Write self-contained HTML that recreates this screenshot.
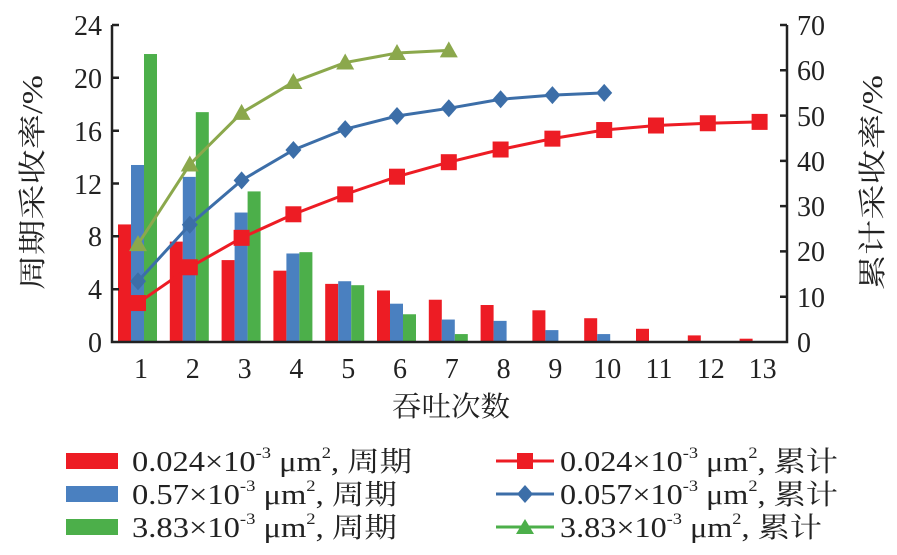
<!DOCTYPE html>
<html><head><meta charset="utf-8"><style>
body{margin:0;background:#fff}
svg{display:block}
text{font-family:"Liberation Serif","Noto Serif CJK SC",serif;fill:#222}
</style></head><body>
<svg width="897" height="555" viewBox="0 0 897 555" xmlns="http://www.w3.org/2000/svg">
<g id="bars"></g>
<g id="lines"></g>
<g stroke="#222" stroke-width="2.5" fill="none">
<path d="M112 25 V342 H787 V25"/>
<path d="M112 25h7M112 77.8h7M112 130.7h7M112 183.5h7M112 236.3h7M112 289.2h7"/>
<path d="M787 25h-7M787 70.3h-7M787 115.6h-7M787 160.9h-7M787 206.1h-7M787 251.4h-7M787 296.7h-7"/>
</g>
<g font-size="28" text-anchor="end">
<text x="102" y="35">24</text><text x="102" y="88">20</text><text x="102" y="141">16</text>
<text x="102" y="194">12</text><text x="102" y="246">8</text><text x="102" y="299">4</text><text x="102" y="352">0</text>
</g>
<g font-size="28" text-anchor="start">
<text x="797" y="35">70</text><text x="797" y="80">60</text><text x="797" y="126">50</text>
<text x="797" y="171">40</text><text x="797" y="216">30</text><text x="797" y="261">20</text>
<text x="797" y="307">10</text><text x="797" y="352">0</text>
</g>
<g font-size="28" text-anchor="middle" id="xt"></g>
<text x="392" y="416" font-size="28" textLength="118" lengthAdjust="spacingAndGlyphs">吞吐次数</text>
<text transform="translate(42,290) rotate(-90)" font-size="28" textLength="215" lengthAdjust="spacingAndGlyphs">周期采收率/%</text>
<text transform="translate(882,290) rotate(-90)" font-size="28" textLength="215" lengthAdjust="spacingAndGlyphs">累计采收率/%</text>
<rect x="66" y="453" width="52" height="16" fill="#ED1C24"/>
<rect x="66" y="486" width="52" height="16" fill="#4A80C0"/>
<rect x="66" y="519" width="52" height="16" fill="#4CAF4A"/>
<g font-size="28">
<text x="132" y="471" textLength="280" lengthAdjust="spacingAndGlyphs">0.024×10<tspan font-size="16" dy="-13">-3</tspan><tspan dy="13"> μm</tspan><tspan font-size="16" dy="-13">2</tspan><tspan dy="13">, 周期</tspan></text>
<text x="132" y="504" textLength="265" lengthAdjust="spacingAndGlyphs">0.57×10<tspan font-size="16" dy="-13">-3</tspan><tspan dy="13"> μm</tspan><tspan font-size="16" dy="-13">2</tspan><tspan dy="13">, 周期</tspan></text>
<text x="132" y="537" textLength="265" lengthAdjust="spacingAndGlyphs">3.83×10<tspan font-size="16" dy="-13">-3</tspan><tspan dy="13"> μm</tspan><tspan font-size="16" dy="-13">2</tspan><tspan dy="13">, 周期</tspan></text>
<text x="560" y="471" textLength="278" lengthAdjust="spacingAndGlyphs">0.024×10<tspan font-size="16" dy="-13">-3</tspan><tspan dy="13"> μm</tspan><tspan font-size="16" dy="-13">2</tspan><tspan dy="13">, 累计</tspan></text>
<text x="560" y="504" textLength="278" lengthAdjust="spacingAndGlyphs">0.057×10<tspan font-size="16" dy="-13">-3</tspan><tspan dy="13"> μm</tspan><tspan font-size="16" dy="-13">2</tspan><tspan dy="13">, 累计</tspan></text>
<text x="560" y="537" textLength="262" lengthAdjust="spacingAndGlyphs">3.83×10<tspan font-size="16" dy="-13">-3</tspan><tspan dy="13"> μm</tspan><tspan font-size="16" dy="-13">2</tspan><tspan dy="13">, 累计</tspan></text>
</g>
<line x1="496" y1="461" x2="554" y2="461" stroke="#ED1C24" stroke-width="3"/>
<rect x="517" y="453" width="16" height="16" fill="#ED1C24"/>
<line x1="496" y1="494" x2="554" y2="494" stroke="#3C6EA8" stroke-width="3"/>
<path d="M525 485 L533 494 L525 503 L517 494Z" fill="#3C6EA8"/>
<line x1="496" y1="527" x2="554" y2="527" stroke="#4CAF4A" stroke-width="3"/>
<path d="M525 519 L534 534 L516 534Z" fill="#4CAF4A"/>
<script>
(function(){
var NS="http://www.w3.org/2000/svg";
function el(t,a,p){var e=document.createElementNS(NS,t);for(var k in a)e.setAttribute(k,a[k]);p.appendChild(e);return e;}
var cx=function(i){return 138+51.8*i;};
var yl=function(v){return 342-v*13.21;}, yr=function(v){return 342-v*4.529;};
var red=[8.9,7.6,6.2,5.4,4.4,3.9,3.2,2.8,2.4,1.8,1.0,0.5,0.25];
var blue=[13.4,12.5,9.8,6.7,4.6,2.9,1.7,1.6,0.9,0.6];
var green=[21.8,17.4,11.4,6.8,4.3,2.1,0.6];
var b=document.getElementById("bars");
[[red,-20,"#ED1C24"],[blue,-7,"#4A80C0"],[green,6,"#4CAF4A"]].forEach(function(s){
 s[0].forEach(function(v,i){el("rect",{x:cx(i)+s[1],y:yl(v),width:13,height:342-yl(v),fill:s[2]},b);});
});
var cr=[8.6,16.5,23,28.2,32.6,36.5,39.7,42.5,44.9,46.8,47.8,48.3,48.6];
var cb=[13.4,25.9,35.7,42.4,47,49.9,51.6,53.6,54.5,55];
var cg=[21.6,39.2,50.6,57.4,61.7,63.8,64.4];
var L=document.getElementById("lines");
function line(d,c){el("polyline",{points:d.map(function(v,i){return cx(i)+","+yr(v);}).join(" "),fill:"none",stroke:c,"stroke-width":3},L);}
line(cr,"#ED1C24");line(cb,"#3C6EA8");line(cg,"#8BA84C");
cr.forEach(function(v,i){el("rect",{x:cx(i)-8,y:yr(v)-8,width:16,height:16,fill:"#ED1C24"},L);});
cb.forEach(function(v,i){var x=cx(i),y=yr(v);el("path",{d:"M"+x+" "+(y-9)+"L"+(x+8)+" "+y+"L"+x+" "+(y+9)+"L"+(x-8)+" "+y+"Z",fill:"#3C6EA8"},L);});
cg.forEach(function(v,i){var x=cx(i),y=yr(v);el("path",{d:"M"+x+" "+(y-9)+"L"+(x+9)+" "+(y+7)+"L"+(x-9)+" "+(y+7)+"Z",fill:"#8BA84C"},L);});
var xt=document.getElementById("xt");
for(var i=0;i<13;i++){var t=el("text",{x:cx(i)+3,y:378},xt);t.textContent=String(i+1);}
})();
</script>
</svg>
</body></html>
